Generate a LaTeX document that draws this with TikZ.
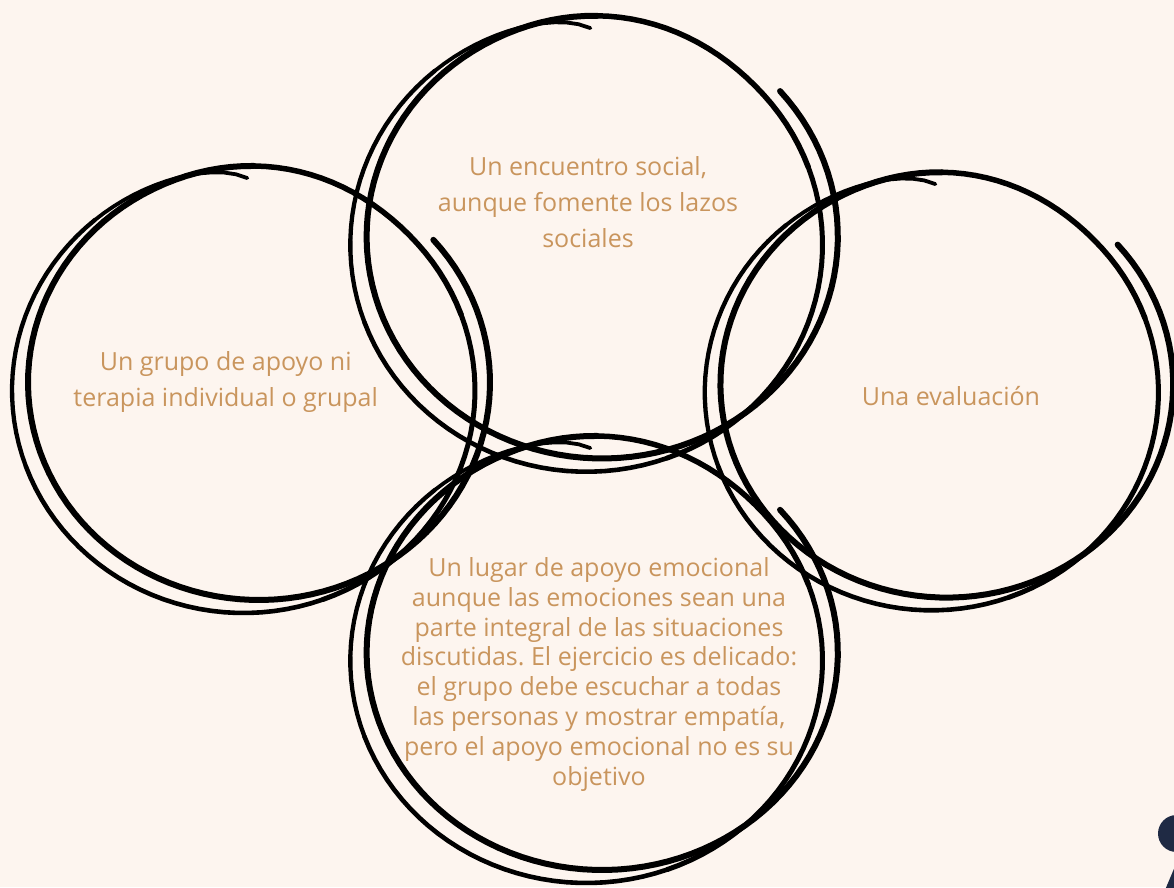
\documentclass[tikz,border=0pt]{standalone}
\usepackage{fontspec}
\setmainfont{Open Sans}
\frenchspacing
\definecolor{bg}{RGB}{253,245,239}
\definecolor{txt}{RGB}{201,149,93}
\definecolor{navy}{RGB}{31,42,68}
\tikzset{
  declare function={
    uu(\t)=min(1,max(0,(\t-400)/80));
    lam(\t)=uu(\t)*uu(\t)*(3-2*uu(\t));
    curl(\t)=1-0.045*exp(max(-8,-(\t-89)/6));
    sdx(\t)=15.5*lam(\t)+(231.5-0.5*lam(\t))*curl(\t)*cos(\t);
    sdy(\t)=-8*lam(\t)-(222.5-5*lam(\t))*curl(\t)*sin(\t);
  },
  labeltext/.style={text=txt, font=\fontsize{25}{36}\selectfont, align=center, inner sep=0pt},
  inkline/.style={draw=black, line cap=round, line join=round},
}
\newcommand\handcircle[4]{%
  \foreach \ta/\tb/\w/\n in {89/130/3.8/15,130/200/4.3/24,200/290/4.6/30,290/380/5.0/30,380/450/5.5/24,450/761/6.0/104}{
    \draw[inkline, line width=\w pt] plot[domain=\ta:\tb, samples=\n] ({#1+#3*sdx(\x)},{#2+#4*sdy(\x)});
  }%
}
\begin{document}
\begin{tikzpicture}[x=1pt,y=-1pt]
\useasboundingbox (0,0) rectangle (1174,887);
\fill[bg] (0,0) rectangle (1174,887);
% hand-drawn circles
\handcircle{243.5}{390.5}{1}{1}
\handcircle{586.4}{244.8}{1.02}{1.02}
\handcircle{931.6}{392.3}{0.98}{0.98}
\handcircle{586.4}{660.5}{1.02}{1.0}
% corner shape
\begin{scope}
\clip (0,0) rectangle (1174,887);
\fill[navy] (1176.5,833.5) circle (18.5);
\fill[navy] (1165,890) -- (1176,864) -- (1180,890) -- cycle;
\end{scope}
% texts
\node[labeltext] (top) at (588,202.5) {Un encuentro social,\\aunque fomente los lazos\\sociales};
\node[labeltext] (left) at (225.7,381.9) {Un grupo de apoyo ni\\terapia individual o grupal};
\node[labeltext] (right) at (951,396) {Una evaluación};
\node[labeltext, font=\fontsize{25}{29.8}\selectfont] (bottom) at (599,674.3) {Un lugar de apoyo emocional\\aunque las emociones sean una\\parte integral de las situaciones\\discutidas. El ejercicio es delicado:\\el grupo debe escuchar a todas\\las personas y mostrar empatía,\\pero el apoyo emocional no es su\\objetivo};
\end{tikzpicture}
\end{document}
